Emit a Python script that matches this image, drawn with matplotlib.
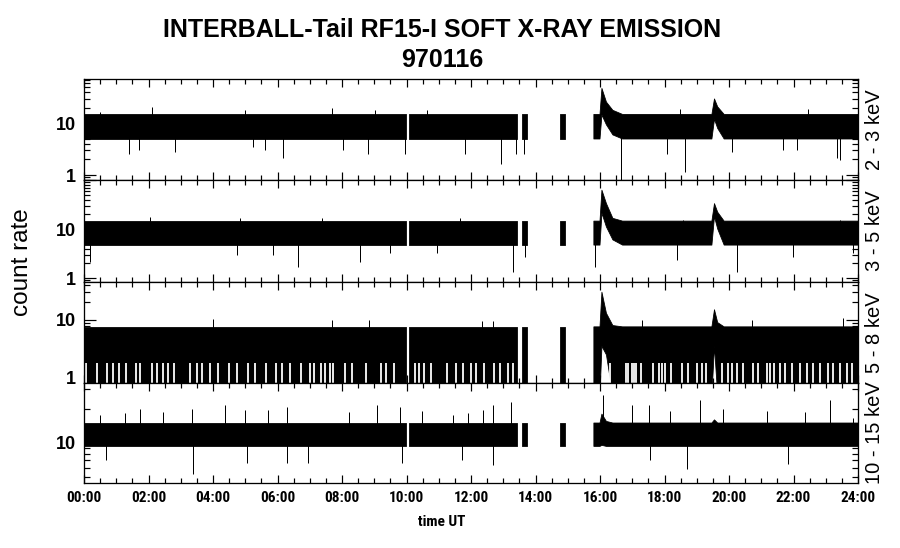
import numpy as np
import matplotlib.pyplot as plt
from matplotlib.ticker import MultipleLocator, LogLocator, NullFormatter, FixedLocator, FixedFormatter

plt.rcParams['font.family'] = ['Liberation Sans', 'DejaVu Sans']

nan = np.nan
# time knots (hours UT); nan = data gap
t_knots = [0.0, 9.99, nan, 10.09, 13.42, nan, 13.57, 13.73, nan, 14.75, 14.93, nan,
           15.81, 16.0, 16.06, 16.2, 16.4, 16.7, 19.47, 19.55, 19.65, 19.85, 24.0]

# dense band envelope per channel (upper / lower edge of the black band)
hi_23 = [15, 15, nan, 15, 15, nan, 15, 15, nan, 15, 15, nan, 15, 15, 48, 26, 18, 15, 15, 30, 21, 15, 15]
lo_23 = [5.0, 5.0, nan, 5.0, 5.0, nan, 5.0, 5.0, nan, 5.0, 5.0, nan, 5.0, 5.0, 14.6, 9.4, 6.0, 5.0, 5.0, 12, 8, 5.0, 5.0]
hi_35 = [14.5, 14.5, nan, 14.5, 14.5, nan, 14.5, 14.5, nan, 14.5, 14.5, nan, 14.5, 14.5, 62, 33, 16.5, 14.5, 14.5, 33, 22, 14.5, 14.5]
lo_35 = [4.7, 4.7, nan, 4.7, 4.7, nan, 4.7, 4.7, nan, 4.7, 4.7, nan, 4.7, 4.7, 21, 11, 6, 4.7, 4.7, 17.8, 10, 4.7, 4.7]
hi_58 = [7.6, 7.6, nan, 7.6, 7.6, nan, 7.6, 7.6, nan, 7.6, 7.6, nan, 7.6, 7.6, 30, 13, 8, 7.6, 7.6, 15, 9, 7.6, 7.6]
lo_58 = [0.5, 0.5, nan, 0.5, 0.5, nan, 0.5, 0.5, nan, 0.5, 0.5, nan, 0.5, 0.5, 3.5, 2.5, 0.5, 0.5, 0.5, 3.5, 0.5, 0.5, 0.5]
hi_1015 = [15, 15, nan, 15, 15, nan, 15, 15, nan, 15, 15, nan, 15, 15, 18, 15.5, 15, 15, 15, 16, 15, 15, 15]
lo_1015 = [9.3, 9.3, nan, 9.3, 9.3, nan, 9.3, 9.3, nan, 9.3, 9.3, nan, 9.3, 9.3, 9.5, 9.3, 9.3, 9.3, 9.3, 9.3, 9.3, 9.3, 9.3]

# isolated spikes (time h, count rate)
up_23_t = [0.5, 2.1, 4.99, 7.68, 9.02, 10.63, 18.48, 22.45]
up_23_v = [17, 21, 18.6, 19.8, 18, 18.6, 19, 19]
dn_23_t = [1.40, 1.72, 2.82, 5.25, 5.61, 6.16, 8.02, 8.82, 9.95, 11.81, 12.93, 13.4, 13.64,
           16.64, 18.07, 18.64, 20.08, 21.67, 22.1, 23.34, 23.44]
dn_23_v = [2.6, 3.05, 2.85, 3.5, 3.05, 2.1, 3.05, 2.6, 2.6, 2.6, 1.67, 2.6, 2.6,
           0.8, 2.6, 1.15, 2.85, 3.05, 3.05, 2.1, 1.96]

up_35_t = [2.05, 4.84, 7.37, 11.66, 18.58, 23.44]
up_35_v = [17.8, 16.5, 16.5, 16.5, 15.3, 15.3]
dn_35_t = [0.19, 4.73, 5.87, 6.65, 8.56, 9.49, 10.94, 13.31, 13.67, 15.84, 18.38, 20.24, 21.99, 23.85]
dn_35_v = [2.15, 2.95, 2.95, 1.70, 2.15, 3.19, 3.19, 1.31, 2.72, 1.70, 2.33, 1.35, 2.72, 3.19]

up_58_t = [4.01, 7.68, 8.85, 12.33, 12.67, 17.3, 20.7, 23.55]
up_58_v = [10.4, 10, 10, 9.6, 9.4, 10, 10, 10.9]
# white dropouts at the bottom of the 5-8 keV band
drop_58_t = [0.05, 0.4, 0.7, 0.9, 1.1, 1.3, 1.6, 1.75, 2.1, 2.25, 2.45, 2.6, 2.8, 3.3, 3.5, 3.65,
             3.9, 4.15, 4.5, 4.75, 5.1, 5.3, 5.65, 5.95, 6.15, 6.4, 6.72, 7.0, 7.14, 7.35, 7.48,
             7.62, 7.73, 8.1, 8.3, 8.75, 9.22, 9.35, 9.6, 10.25, 10.4, 10.55, 10.75, 11.25, 11.55,
             11.75, 12.0, 12.15, 12.4, 12.7, 12.9, 13.15, 13.3, 16.32, 16.8, 16.86, 16.98, 17.05,
             17.13, 17.27, 17.64, 17.83, 17.91, 18.01, 18.2, 18.54, 18.73, 19.0, 19.15, 19.3,
             19.78, 19.97, 20.09, 20.24, 20.44, 20.75, 20.9, 21.17, 21.27, 21.4, 21.58, 21.74,
             21.96, 22.2, 22.41, 22.62, 22.83, 23.07, 23.23, 23.45, 23.66, 23.81]

up_1015_t = [0.5, 1.27, 1.74, 2.46, 3.34, 4.37, 4.99, 5.71, 6.28, 8.23, 9.1, 9.8, 10.47, 11.45,
             11.92, 12.36, 12.67, 13.24, 16.08, 16.98, 17.53, 18.17, 19.1, 19.8, 21.17, 22.36,
             23.13, 23.86]
up_1015_v = [17.7, 18.4, 20, 18.8, 20, 21.5, 19.6, 19.6, 20.8, 18.8, 21.5, 21, 19.3, 17.7,
             18.5, 19.6, 21.5, 23, 26.6, 21.5, 21.5, 19.3, 24.2, 20, 19.3, 18.8, 24.2, 16.6]
dn_1015_t = [0.68, 3.37, 5.04, 6.3, 6.96, 9.85, 11.71, 12.67, 17.55, 18.69, 21.84]
dn_1015_v = [7.0, 5.3, 6.6, 6.6, 6.6, 6.6, 7.1, 6.3, 7.0, 5.8, 6.5]

channels = ['2 - 3 keV', '3 - 5 keV', '5 - 8 keV', '10 - 15 keV']
ylims = [(0.8, 73), (0.83, 100), (0.82, 45), (4.4, 34)]
bands = [(hi_23, lo_23), (hi_35, lo_35), (hi_58, lo_58), (hi_1015, lo_1015)]
ups = [(up_23_t, up_23_v), (up_35_t, up_35_v), (up_58_t, up_58_v), (up_1015_t, up_1015_v)]
downs = [(dn_23_t, dn_23_v), (dn_35_t, dn_35_v), ([], []), (dn_1015_t, dn_1015_v)]
mids = [9, 8, 4, 12]
condensed = ['Roboto Condensed', 'Liberation Sans', 'DejaVu Sans']

fig = plt.figure(figsize=(9, 5.48), dpi=100)
tops = [79, 180, 282, 383, 483]
left, right = 84, 858
t = np.array(t_knots)
px = 0.72

for i in range(4):
    ax = fig.add_axes([left / 900, 1 - tops[i + 1] / 548, (right - left) / 900,
                       (tops[i + 1] - tops[i]) / 548])
    hi, lo = bands[i]
    ax.fill_between(t, lo, hi, color='black', lw=0.8 * px, edgecolor='black')
    ut, uv = ups[i]
    ax.vlines(ut, mids[i], uv, color='black', lw=px)
    dt, dv = downs[i]
    if dt:
        ax.vlines(dt, mids[i], dv, color='black', lw=px)
    if i == 2:
        ax.vlines(drop_58_t, 0.5, 1.8, color='white', lw=1.8 * px)
    ax.set_yscale('log')
    ax.set_ylim(*ylims[i])
    ax.set_xlim(0, 24)
    ax.xaxis.set_major_locator(MultipleLocator(2))
    ax.xaxis.set_minor_locator(MultipleLocator(0.5))
    ax.yaxis.set_major_locator(FixedLocator([1, 10, 100]))
    ax.yaxis.set_major_formatter(FixedFormatter(['1', '10', '']))
    ax.yaxis.set_minor_locator(LogLocator(base=10, subs=np.arange(2, 10)))
    ax.yaxis.set_minor_formatter(NullFormatter())
    ax.tick_params(axis='x', which='both', direction='in', top=True, bottom=True, width=1.2 * px)
    ax.tick_params(axis='x', which='major', length=8 * px)
    ax.tick_params(axis='x', which='minor', length=5 * px)
    ax.tick_params(axis='y', which='both', direction='in', left=True, right=True, width=1.2 * px)
    ax.tick_params(axis='y', which='major', length=12 * px, labelsize=13, pad=6)
    ax.tick_params(axis='y', which='minor', length=6 * px)
    for lab in ax.get_yticklabels():
        lab.set_fontweight('bold')
    for s in ax.spines.values():
        s.set_linewidth(1.3 * px)
    if i < 3:
        ax.set_xticklabels([])
    else:
        ax.set_xticks(np.arange(0, 25, 2))
        ax.set_xticklabels(['%02d:00' % h for h in range(0, 25, 2)], fontsize=11,
                           family=condensed, fontweight='bold')
        ax.tick_params(axis='x', which='major', pad=6)
    yc = 1 - (tops[i] + tops[i + 1]) / 2 / 548
    fig.text(0.972, yc, channels[i], rotation=90, ha='center', va='center', fontsize=14.5)

fig.text(0.491, 0.945, 'INTERBALL-Tail RF15-I SOFT X-RAY EMISSION', ha='center', va='center',
         fontsize=18, fontweight='bold')
fig.text(0.491, 0.8905, '970116', ha='center', va='center', fontsize=18, fontweight='bold')
fig.text(0.0244, 0.522, 'count rate', rotation=90, ha='center', va='center', fontsize=17.5)
fig.text(0.491, 0.0474, 'time UT', ha='center', va='center', fontsize=11, family=condensed,
         fontweight='bold')

fig.savefig('out.png', dpi=100)
